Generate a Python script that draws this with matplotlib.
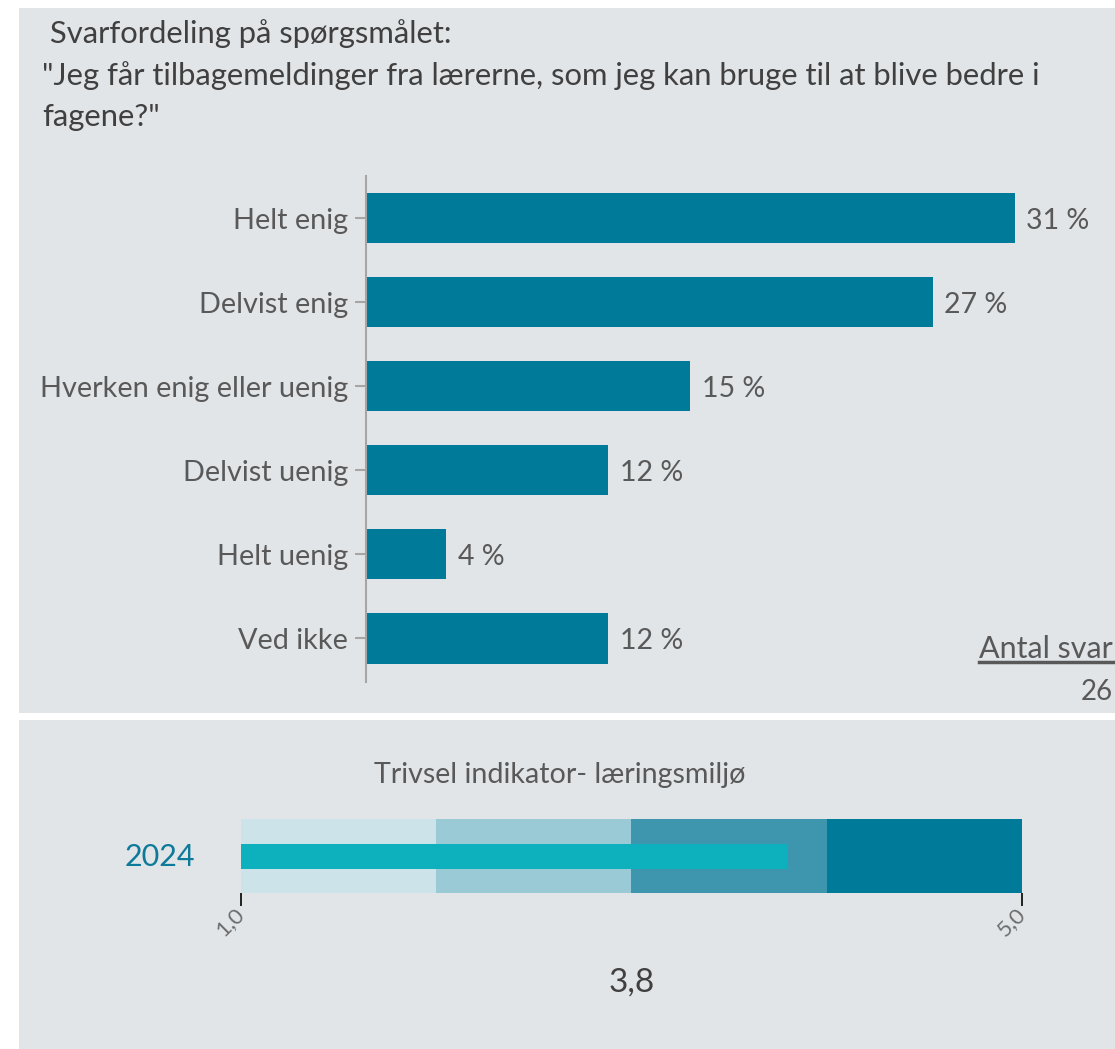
import matplotlib
matplotlib.use('Agg')
import matplotlib.pyplot as plt
from matplotlib.patches import Rectangle
from matplotlib.lines import Line2D

plt.rcParams['font.family'] = ['Lato', 'DejaVu Sans']

# data
categories = ['Helt enig', 'Delvist enig', 'Hverken enig eller uenig',
              'Delvist uenig', 'Helt uenig', 'Ved ikke']
shares = [30.8, 26.9, 15.4, 11.5, 3.8, 11.5]   # percent of 26 answers
n_answers = 26
title_lines = ' Svarfordeling på spørgsmålet:\n"Jeg får tilbagemeldinger fra lærerne, som jeg kan bruge til at blive bedre i\nfagene?"'

ind_title = 'Trivsel indikator- læringsmiljø'
ind_year = '2024'
ind_bands = [1.0, 2.0, 3.0, 4.0, 5.0]
ind_value = 3.8

BG = '#e1e5e8'
BAR = '#007a99'
BAND_COLORS = ['#cde3ea', '#9bcad7', '#3e96ae', '#007a99']
INNER = '#0db0bd'
TXT = '#595959'
DARK = '#404040'

W, H = 1115, 1049
fig = plt.figure(figsize=(W / 100, H / 100), dpi=100)
fig.patch.set_facecolor('white')

def px_rect(x0, y0, x1, y1):
    # pixel box (top-left origin) -> figure fraction [l, b, w, h]
    return [x0 / W, 1 - y1 / H, (x1 - x0) / W, (y1 - y0) / H]

def fx(x): return x / W
def fy(y): return 1 - y / H

# panel backgrounds
for box in [(19, 8, W, 713), (19, 720, W, H)]:
    l, b, w, h = px_rect(*box)
    fig.add_artist(Rectangle((l, b), w, h, transform=fig.transFigure,
                             facecolor=BG, edgecolor='none', zorder=0))

fig.text(fx(42), fy(19), title_lines, ha='left', va='top', fontsize=22.3,
         color=DARK, linespacing=1.55)

# bar chart
scale = 21.06  # px per percent
ax = fig.add_axes(px_rect(366, 176, 366 + 35.5 * scale, 682))
ax.set_facecolor('none')
y = list(range(len(categories)))
ax.barh(y, shares, height=0.6, color=BAR)
ax.set_xlim(0, 35.5)
ax.set_ylim(5.52, -0.5)
ax.set_yticks(y)
ax.set_yticklabels(categories, fontsize=20.8, color=TXT)
ax.tick_params(axis='y', length=8, width=1.5, color='#a6a6a6', pad=5)
ax.set_xticks([])
for s in ['top', 'right', 'bottom']:
    ax.spines[s].set_visible(False)
ax.spines['left'].set_color('#a6a6a6')
ax.spines['left'].set_linewidth(1.5)
for yi, v in zip(y, shares):
    ax.text(v + 0.55, yi + 0.03, f'{round(v):d} %', va='center', ha='left',
            fontsize=20.5, color=TXT)

t = fig.text(fx(1113), fy(649), 'Antal svar', ha='right', va='center',
             fontsize=22, color=TXT)
fig.text(fx(1113), fy(692), str(n_answers), ha='right', va='center',
         fontsize=20, color=TXT)
fig.canvas.draw()
bb = t.get_window_extent(fig.canvas.get_renderer())
fig.add_artist(Line2D([bb.x0 / W, bb.x1 / W], [(bb.y0 + 1) / H] * 2,
                      transform=fig.transFigure, color=TXT, lw=2.5))

# indicator panel
fig.text(fx(560), fy(775), ind_title, ha='center', va='center',
         fontsize=20.6, color=TXT)
bx = fig.add_axes(px_rect(241, 819, 1022, 893))
bx.set_facecolor('none')
for i in range(len(ind_bands) - 1):
    bx.barh(0.5, ind_bands[i + 1] - ind_bands[i], left=ind_bands[i],
            height=1.0, color=BAND_COLORS[i])
bx.barh(0.5, ind_value - ind_bands[0], left=ind_bands[0], height=25 / 74,
        color=INNER)
bx.set_xlim(ind_bands[0], ind_bands[-1])
bx.set_ylim(0, 1)
bx.set_yticks([])
bx.set_xticks([ind_bands[0], ind_bands[-1]])
bx.set_xticklabels([f'{ind_bands[0]:.1f}'.replace('.', ','),
                    f'{ind_bands[-1]:.1f}'.replace('.', ',')],
                   rotation=45, ha='right', va='center', rotation_mode='anchor',
                   fontsize=16, color='#6d6d6d')
bx.tick_params(axis='x', length=9, width=1.2, color='black', pad=4)
for s in bx.spines.values():
    s.set_visible(False)

fig.text(fx(160), fy(857), ind_year, ha='center', va='center',
         fontsize=22, color='#0e7a99')
fig.text(fx(632), fy(983), f'{ind_value:.1f}'.replace('.', ','), ha='center',
         va='center', fontsize=24, color=DARK)

fig.savefig('out.png', dpi=100, facecolor=fig.get_facecolor())
